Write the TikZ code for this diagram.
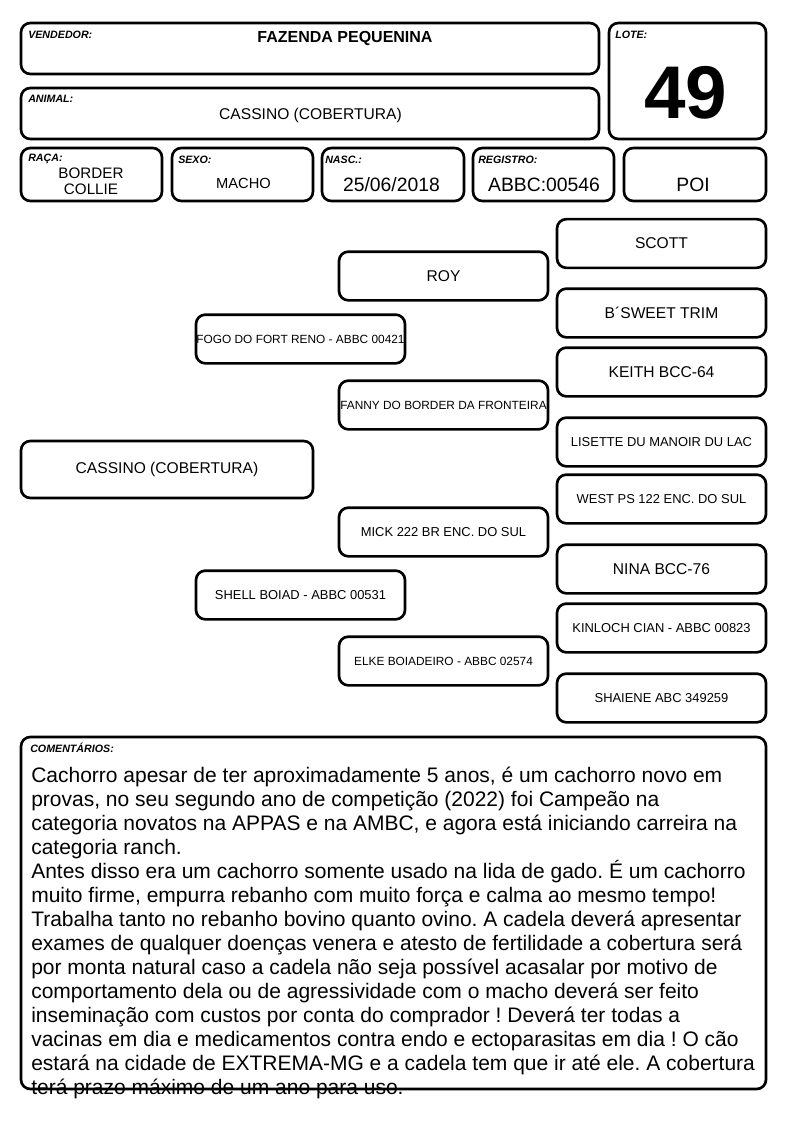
\documentclass[tikz,border=0pt]{standalone}
\usepackage{fontspec}
\setmainfont{Liberation Sans}
\usetikzlibrary{fit}
\newcommand{\pfont}[2]{\fontsize{#1}{#2}\selectfont}
\begin{document}
\frenchspacing
\begin{tikzpicture}[x=0.75pt,y=-0.75pt,
    box/.style={draw,line width=2pt,rounded corners=7pt,inner sep=0pt},
    field/.style={font=\pfont{8}{9}\bfseries\itshape,inner sep=0pt,anchor=base west},
    value/.style={inner sep=0pt,anchor=base},
    ped/.style={draw,line width=2pt,rounded corners=7pt,inner sep=0pt,
      minimum width=156.75pt,minimum height=36.5pt,font=\pfont{11.7}{14}},
    pedsmall/.style={font=\pfont{9.7}{12}},
    pedtiny/.style={font=\pfont{8.9}{11}}]
  \useasboundingbox (0,0) rectangle (794,1123);
  % header
  \node[box,fit={(21,23) (599,74)}] (vendedor) {};
  \node[box,fit={(21,88) (599,139)}] (animal) {};
  \node[box,fit={(609,23) (766,139)}] (lote) {};
  \node[box,fit={(21,148) (162,201)}] (raca) {};
  \node[box,fit={(172,148) (313,201)}] (sexo) {};
  \node[box,fit={(322,148) (464,201)}] (nasc) {};
  \node[box,fit={(473,148) (614,201)}] (registro) {};
  \node[box,fit={(624,148) (766,201)}] (poi) {};
  \node[field] (vendedor-t) at (28,39) {VENDEDOR:};
  \node[field] (animal-t) at (28,103) {ANIMAL:};
  \node[field] (lote-t) at (615,39) {LOTE:};
  \node[field] (raca-t) at (28,162) {RAÇA:};
  \node[field] (sexo-t) at (178,164) {SEXO:};
  \node[field] (nasc-t) at (325,164) {NASC.:};
  \node[field] (registro-t) at (478,164) {REGISTRO:};
  \node[value,font=\pfont{12}{14}\bfseries] (vendedor-v) at (345,43) {FAZENDA PEQUENINA};
  \node[value,font=\pfont{11.7}{14}] (animal-v) at (310.5,119.5) {CASSINO (COBERTURA)};
  \node[value,font=\pfont{56}{60}\bfseries] (lote-v) at (686,119) {49};
  \node[value,align=center,font=\pfont{11.4}{12}] (raca-v) at (91,195) {BORDER\\COLLIE};
  \node[value,font=\pfont{11}{13}] (sexo-v) at (243.5,189) {MACHO};
  \node[value,font=\pfont{14.5}{17}] (nasc-v) at (391.5,192) {25/06/2018};
  \node[value,font=\pfont{14.5}{17}] (registro-v) at (544,192) {ABBC:00546};
  \node[value,font=\pfont{14.5}{17}] (poi-v) at (693,192) {POI};
  % pedigree
  \begin{scope}[every node/.style={ped}]
    \node[minimum width=219pt,minimum height=42.75pt] (cassino) at (167,469.5) {CASSINO (COBERTURA)};
    \node[pedtiny] (fogo) at (300.5,339) {FOGO DO FORT RENO - ABBC 00421};
    \node[pedsmall] (shell) at (300.5,595) {SHELL BOIAD - ABBC 00531};
    \node (roy) at (443.5,276) {ROY};
    \node[pedtiny] (fanny) at (443.5,405) {FANNY DO BORDER DA FRONTEIRA};
    \node[pedsmall] (mick) at (443.5,532) {MICK 222 BR ENC. DO SUL};
    \node[pedtiny] (elke) at (443.5,661) {ELKE BOIADEIRO - ABBC 02574};
    \node (scott) at (661.5,243.5) {SCOTT};
    \node (sweet) at (661.5,313) {B´SWEET TRIM};
    \node (keith) at (661.5,372) {KEITH BCC-64};
    \node[pedsmall] (lisette) at (661.5,442) {LISETTE DU MANOIR DU LAC};
    \node[pedsmall] (west) at (661.5,499) {WEST PS 122 ENC. DO SUL};
    \node (nina) at (661.5,569) {NINA BCC-76};
    \node[pedsmall] (kinloch) at (661.5,628) {KINLOCH CIAN - ABBC 00823};
    \node[pedsmall] (shaiene) at (661.5,698) {SHAIENE ABC 349259};
  \end{scope}
  % comments
  \node[field] (comentarios-t) at (30,752) {COMENTÁRIOS:};
  \node[anchor=north west,inner sep=0pt,align=left,font=\pfont{15.75}{18}] (comentarios-v) at (31,767) {%
    Cachorro apesar de ter aproximadamente 5 anos, é um cachorro novo em\\
    provas, no seu segundo ano de competição (2022) foi Campeão na\\
    categoria novatos na APPAS e na AMBC, e agora está iniciando carreira na\\
    categoria ranch.\\
    Antes disso era um cachorro somente usado na lida de gado. É um cachorro\\
    muito firme, empurra rebanho com muito força e calma ao mesmo tempo!\\
    Trabalha tanto no rebanho bovino quanto ovino. A cadela deverá apresentar\\
    exames de qualquer doenças venera e atesto de fertilidade a cobertura será\\
    por monta natural caso a cadela não seja possível acasalar por motivo de\\
    comportamento dela ou de agressividade com o macho deverá ser feito\\
    inseminação com custos por conta do comprador ! Deverá ter todas a\\
    vacinas em dia e medicamentos contra endo e ectoparasitas em dia ! O cão\\
    estará na cidade de EXTREMA-MG e a cadela tem que ir até ele. A cobertura\\
    terá prazo máximo de um ano para uso.};
  \node[box,fit={(21,737) (766,1089)}] (comentarios) {};
\end{tikzpicture}
\end{document}
